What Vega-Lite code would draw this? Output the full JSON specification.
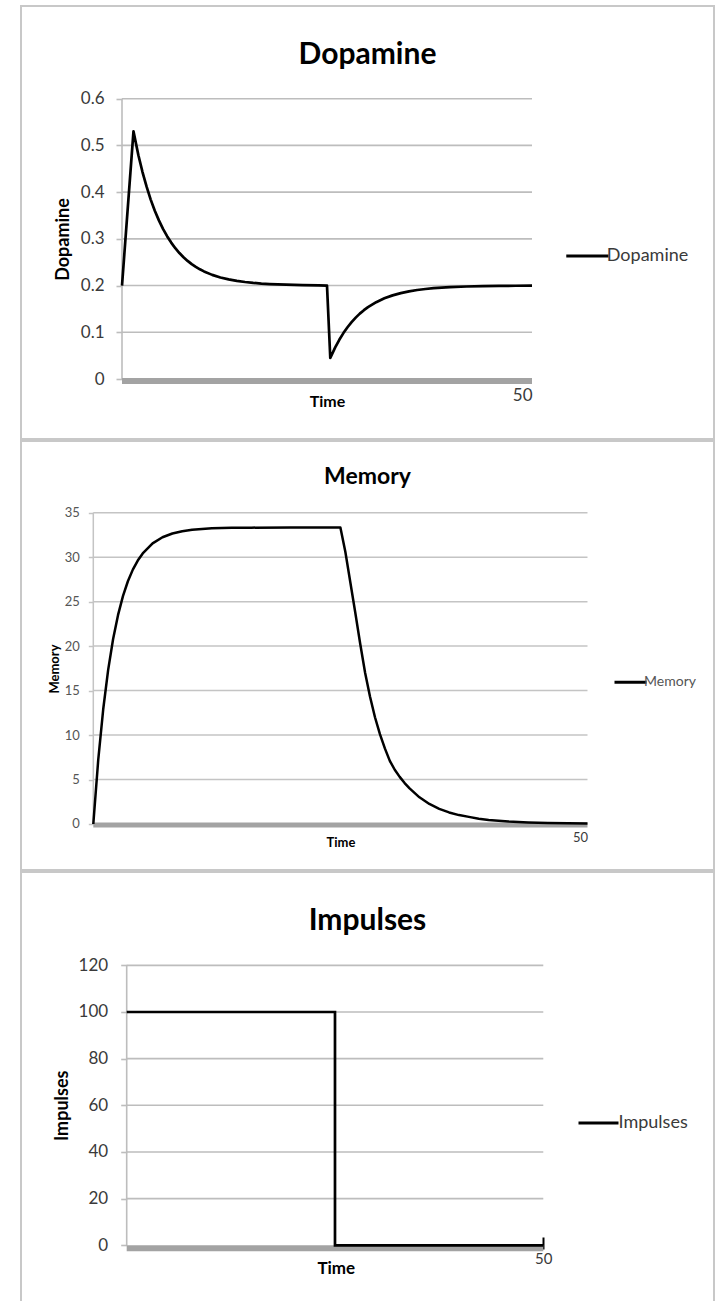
{
  "$schema": "https://vega.github.io/schema/vega-lite/v6.json",
  "padding": {"left": 20, "top": 5, "right": 0, "bottom": 0},
  "spacing": 0,
  "config": {
    "font": "Lato",
    "view": {"stroke": "#c8c8c8", "strokeWidth": 2},
    "axis": {"labelFont": "Lato", "titleFont": "Lato", "labelColor": "#3a3a3a", "titleColor": "#000000"},
    "legend": {"labelFont": "Lato"}
  },
  "resolve": {"scale": {"stroke": "independent"}, "legend": {"stroke": "independent"}},
  "vconcat": [
    {
      "width": 693,
      "height": 433,
      "title": {"text": "Dopamine", "fontSize": 30, "fontWeight": "bold", "color": "#000000", "anchor": "middle", "frame": "group", "offset": -87.7, "baseline": "alphabetic"},
      "layer": [
        {
          "data": {"values": [{"v": 0.1}, {"v": 0.2}, {"v": 0.3}, {"v": 0.4}, {"v": 0.5}, {"v": 0.6}]},
          "mark": {"type": "rule", "color": "#bdbdbd", "strokeWidth": 1.6},
          "encoding": {
            "y": {"field": "v", "type": "quantitative"},
            "x": {"datum": 0, "type": "quantitative"},
            "x2": {"datum": 50}
          }
        },
        {
          "data": {"values": [{}]},
          "mark": {"type": "rule", "color": "#bdbdbd", "strokeWidth": 1.6},
          "encoding": {
            "x": {"datum": 0, "type": "quantitative"},
            "y": {"datum": 0, "type": "quantitative"},
            "y2": {"datum": 0.6}
          }
        },
        {
          "data": {"values": [{}]},
          "mark": {"type": "rule", "color": "#a3a3a3", "strokeWidth": 6, "yOffset": 2},
          "encoding": {
            "x": {"datum": 0, "type": "quantitative"},
            "x2": {"datum": 50},
            "y": {"datum": 0, "type": "quantitative"}
          }
        },
        {
          "data": {"values": [
            {"t": 0, "v": 0.2}, {"t": 1.4, "v": 0.53}, {"t": 2, "v": 0.479}, {"t": 2.5, "v": 0.443},
            {"t": 3, "v": 0.4116}, {"t": 3.5, "v": 0.384}, {"t": 4, "v": 0.36}, {"t": 4.5, "v": 0.3395},
            {"t": 5, "v": 0.3214}, {"t": 5.5, "v": 0.3057}, {"t": 6, "v": 0.292}, {"t": 6.5, "v": 0.28},
            {"t": 7, "v": 0.2697}, {"t": 7.5, "v": 0.2606}, {"t": 8, "v": 0.2528}, {"t": 8.5, "v": 0.2459},
            {"t": 9, "v": 0.24}, {"t": 9.5, "v": 0.2348}, {"t": 10, "v": 0.2303}, {"t": 11, "v": 0.2229},
            {"t": 12, "v": 0.2174}, {"t": 13, "v": 0.2132}, {"t": 14, "v": 0.21}, {"t": 15, "v": 0.2076},
            {"t": 16, "v": 0.2057}, {"t": 17, "v": 0.2043}, {"t": 18, "v": 0.2033}, {"t": 19, "v": 0.2025},
            {"t": 20, "v": 0.2019}, {"t": 22, "v": 0.2011}, {"t": 24, "v": 0.2006}, {"t": 25, "v": 0.2},
            {"t": 25.4, "v": 0.045}, {"t": 26, "v": 0.0676}, {"t": 26.5, "v": 0.084}, {"t": 27, "v": 0.0983},
            {"t": 27.5, "v": 0.1108}, {"t": 28, "v": 0.1218}, {"t": 28.5, "v": 0.1314}, {"t": 29, "v": 0.1399},
            {"t": 29.5, "v": 0.1473}, {"t": 30, "v": 0.1538}, {"t": 31, "v": 0.1645}, {"t": 32, "v": 0.1727},
            {"t": 33, "v": 0.179}, {"t": 34, "v": 0.1839}, {"t": 35, "v": 0.1876}, {"t": 36, "v": 0.1905},
            {"t": 37, "v": 0.1927}, {"t": 38, "v": 0.1944}, {"t": 39, "v": 0.1957}, {"t": 40, "v": 0.1967},
            {"t": 42, "v": 0.198}, {"t": 44, "v": 0.1988}, {"t": 46, "v": 0.1993}, {"t": 48, "v": 0.1996},
            {"t": 50, "v": 0.2}
          ]},
          "mark": {"type": "line", "strokeWidth": 2.7, "strokeJoin": "round"},
          "encoding": {
            "x": {"field": "t", "type": "quantitative", "scale": {"domain": [-12.317, 72.195], "nice": false, "zero": false},
              "axis": {"values": [50], "offset": -60, "domain": false, "ticks": false, "grid": false,
                "labelFontSize": 17, "labelAlign": "right", "labelBaseline": "middle", "labelPadding": 16,
                "title": "Time", "titleFontSize": 16, "titleFontWeight": "bold", "titleX": 306, "titleY": 22, "titleBaseline": "middle", "titleAlign": "center"}},
            "y": {"field": "v", "type": "quantitative", "scale": {"domain": [-0.1284, 0.7984], "nice": false, "zero": false},
              "axis": {"values": [0, 0.1, 0.2, 0.3, 0.4, 0.5, 0.6], "format": "~g", "offset": -101, "domain": false, "grid": false,
                "ticks": true, "tickSize": 6, "tickColor": "#bdbdbd", "tickWidth": 1.6,
                "labelFontSize": 17, "labelPadding": 12, "labelBaseline": "middle",
                "title": "Dopamine", "titleFontSize": 18, "titleFontWeight": "bold", "titleAngle": -90, "titleX": -59, "titleY": 233, "titleBaseline": "middle", "titleAlign": "center"}},
            "stroke": {"datum": "Dopamine", "type": "nominal", "scale": {"range": ["#000000"]},
              "legend": {"orient": "none", "legendX": 543.4, "legendY": 226.9, "title": null, "padding": 0, "symbolType": "stroke", "symbolSize": 1785, "symbolStrokeWidth": 3, "labelFontSize": 18, "labelOffset": -3.6, "labelColor": "#3a3a3a"}}
          }
        }
      ]
    },
    {
      "width": 693,
      "height": 429,
      "title": {"text": "Memory", "fontSize": 23, "fontWeight": "bold", "color": "#000000", "anchor": "middle", "frame": "group", "offset": -66, "baseline": "alphabetic"},
      "layer": [
        {
          "data": {"values": [{"v": 5}, {"v": 10}, {"v": 15}, {"v": 20}, {"v": 25}, {"v": 30}, {"v": 35}]},
          "mark": {"type": "rule", "color": "#c4c4c4", "strokeWidth": 1.5},
          "encoding": {
            "y": {"field": "v", "type": "quantitative"},
            "x": {"datum": 0, "type": "quantitative"},
            "x2": {"datum": 50}
          }
        },
        {
          "data": {"values": [{}]},
          "mark": {"type": "rule", "color": "#c4c4c4", "strokeWidth": 1.5},
          "encoding": {
            "x": {"datum": 0, "type": "quantitative"},
            "y": {"datum": 0, "type": "quantitative"},
            "y2": {"datum": 35}
          }
        },
        {
          "data": {"values": [{}]},
          "mark": {"type": "rule", "color": "#a3a3a3", "strokeWidth": 5, "yOffset": 1},
          "encoding": {
            "x": {"datum": 0, "type": "quantitative"},
            "x2": {"datum": 50},
            "y": {"datum": 0, "type": "quantitative"}
          }
        },
        {
          "data": {"values": [
            {"t": 0, "v": 0}, {"t": 0.5, "v": 7.22}, {"t": 1, "v": 12.87}, {"t": 1.5, "v": 17.3},
            {"t": 2, "v": 20.77}, {"t": 2.5, "v": 23.48}, {"t": 3, "v": 25.62}, {"t": 3.5, "v": 27.29},
            {"t": 4, "v": 28.6}, {"t": 4.5, "v": 29.62}, {"t": 5, "v": 30.42}, {"t": 6, "v": 31.55},
            {"t": 7, "v": 32.24}, {"t": 8, "v": 32.66}, {"t": 9, "v": 32.92}, {"t": 10, "v": 33.08},
            {"t": 11, "v": 33.17}, {"t": 12, "v": 33.24}, {"t": 14, "v": 33.3}, {"t": 16, "v": 33.32},
            {"t": 20, "v": 33.33}, {"t": 25, "v": 33.33}, {"t": 25.5, "v": 30.6}, {"t": 26, "v": 27.2},
            {"t": 26.5, "v": 23.8}, {"t": 27, "v": 20.3}, {"t": 27.5, "v": 17.0}, {"t": 28, "v": 14.3},
            {"t": 28.5, "v": 12.0}, {"t": 29, "v": 10.1}, {"t": 29.5, "v": 8.5}, {"t": 30, "v": 7.1},
            {"t": 30.5, "v": 6.1}, {"t": 31, "v": 5.3}, {"t": 31.5, "v": 4.6}, {"t": 32, "v": 4.0},
            {"t": 33, "v": 3.0}, {"t": 34, "v": 2.25}, {"t": 35, "v": 1.7}, {"t": 36, "v": 1.3},
            {"t": 37, "v": 1.0}, {"t": 38, "v": 0.8}, {"t": 39, "v": 0.6}, {"t": 40, "v": 0.45},
            {"t": 42, "v": 0.28}, {"t": 44, "v": 0.18}, {"t": 46, "v": 0.12}, {"t": 48, "v": 0.08},
            {"t": 50, "v": 0.06}
          ]},
          "mark": {"type": "line", "strokeWidth": 2.5, "strokeJoin": "round"},
          "encoding": {
            "x": {"field": "t", "type": "quantitative", "scale": {"domain": [-7.315, 62.8], "nice": false, "zero": false},
              "axis": {"values": [50], "offset": -46, "domain": false, "ticks": false, "grid": false,
                "labelFontSize": 13, "labelAlign": "right", "labelBaseline": "middle", "labelPadding": 13,
                "title": "Time", "titleFontSize": 13, "titleFontWeight": "bold", "titleX": 319.5, "titleY": 18, "titleBaseline": "middle", "titleAlign": "center"}},
            "y": {"field": "v", "type": "quantitative", "scale": {"domain": [-5.172, 43.06], "nice": false, "zero": false},
              "axis": {"values": [0, 5, 10, 15, 20, 25, 30, 35], "offset": -72.3, "domain": false, "grid": false,
                "ticks": true, "tickSize": 5, "tickColor": "#c4c4c4", "tickWidth": 1.5,
                "labelFontSize": 13, "labelPadding": 9, "labelBaseline": "middle", "labelColor": "#555555",
                "title": "Memory", "titleFontSize": 13, "titleFontWeight": "bold", "titleAngle": -90, "titleX": -39, "titleY": 227.5, "titleBaseline": "middle", "titleAlign": "center"}},
            "stroke": {"datum": "Memory", "type": "nominal", "scale": {"range": ["#000000"]},
              "legend": {"orient": "none", "legendX": 592, "legendY": 223.7, "title": null, "padding": 0, "symbolType": "stroke", "symbolSize": 1024, "symbolStrokeWidth": 3, "labelFontSize": 14, "labelOffset": -4, "labelColor": "#555555"}}
          }
        }
      ]
    },
    {
      "width": 693,
      "height": 435,
      "title": {"text": "Impulses", "fontSize": 30, "fontWeight": "bold", "color": "#000000", "anchor": "middle", "frame": "group", "offset": -87.7, "baseline": "alphabetic"},
      "layer": [
        {
          "data": {"values": [{"v": 20}, {"v": 40}, {"v": 60}, {"v": 80}, {"v": 100}, {"v": 120}]},
          "mark": {"type": "rule", "color": "#bdbdbd", "strokeWidth": 1.6},
          "encoding": {
            "y": {"field": "v", "type": "quantitative"},
            "x": {"datum": 0, "type": "quantitative"},
            "x2": {"datum": 50}
          }
        },
        {
          "data": {"values": [{}]},
          "mark": {"type": "rule", "color": "#bdbdbd", "strokeWidth": 1.6},
          "encoding": {
            "x": {"datum": 0, "type": "quantitative"},
            "y": {"datum": 0, "type": "quantitative"},
            "y2": {"datum": 120}
          }
        },
        {
          "data": {"values": [{}]},
          "mark": {"type": "rule", "color": "#a3a3a3", "strokeWidth": 6, "yOffset": 3},
          "encoding": {
            "x": {"datum": 0, "type": "quantitative"},
            "x2": {"datum": 50},
            "y": {"datum": 0, "type": "quantitative"}
          }
        },
        {
          "data": {"values": [
            {"t": 0, "v": 100}, {"t": 25, "v": 100}, {"t": 25, "v": 0}, {"t": 50, "v": 0}
          ]},
          "mark": {"type": "line", "strokeWidth": 2.7, "strokeJoin": "miter"},
          "encoding": {
            "x": {"field": "t", "type": "quantitative", "scale": {"domain": [-12.686, 70.49], "nice": false, "zero": false},
              "axis": {"values": [50], "offset": -70, "domain": false, "ticks": true, "tickSize": 12, "tickColor": "#000000", "tickWidth": 2, "grid": false,
                "labelFontSize": 15, "labelAlign": "center", "labelBaseline": "middle", "labelPadding": 9,
                "title": "Time", "titleFontSize": 17, "titleFontWeight": "bold", "titleX": 314.8, "titleY": 31, "titleBaseline": "middle", "titleAlign": "center"}},
            "y": {"field": "v", "type": "quantitative", "scale": {"domain": [-26.44, 160], "nice": false, "zero": false},
              "axis": {"values": [0, 20, 40, 60, 80, 100, 120], "offset": -105.7, "domain": false, "grid": false,
                "ticks": true, "tickSize": 6, "tickColor": "#bdbdbd", "tickWidth": 1.6,
                "labelFontSize": 17, "labelPadding": 13, "labelBaseline": "middle",
                "title": "Impulses", "titleFontSize": 18, "titleFontWeight": "bold", "titleAngle": -90, "titleX": -64, "titleY": 233.3, "titleBaseline": "middle", "titleAlign": "center"}},
            "stroke": {"datum": "Impulses", "type": "nominal", "scale": {"range": ["#000000"]},
              "legend": {"orient": "none", "legendX": 556, "legendY": 229.4, "title": null, "padding": 0, "symbolType": "stroke", "symbolSize": 1600, "symbolStrokeWidth": 3, "labelFontSize": 18, "labelOffset": -1.5, "labelColor": "#3a3a3a"}}
          }
        }
      ]
    }
  ]
}
